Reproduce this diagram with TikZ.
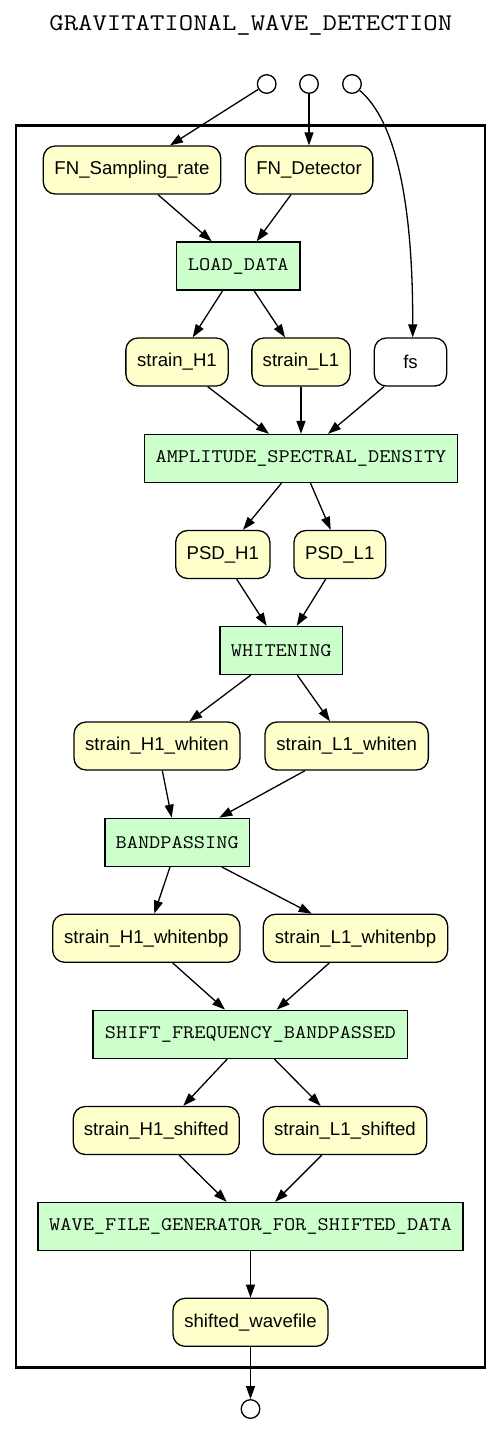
\documentclass[tikz,border=0pt]{standalone}
\usepackage{fontspec}
\setmainfont{Liberation Sans}
\usetikzlibrary{arrows.meta}
\definecolor{datafill}{HTML}{FFFFCC}
\definecolor{progfill}{HTML}{CCFFCC}
\newcommand{\progtext}[1]{\scalebox{1.131}[1]{#1}}
\begin{document}
\begin{tikzpicture}[x=1pt,y=-1pt,
  data/.style={draw=black, line width=1.3pt, fill=datafill, rounded corners=12pt,
    minimum height=48pt, inner xsep=6pt, inner ysep=0pt,
    font=\fontsize{18.6}{20}\selectfont},
  param/.style={data, fill=white},
  prog/.style={draw=black, line width=1.3pt, fill=progfill,
    minimum height=48pt, inner xsep=6pt, inner ysep=0pt,
    font=\ttfamily\fontsize{19.2}{21}\selectfont},
  port/.style={circle, draw=black, line width=1.3pt, minimum size=18.6pt, inner sep=0pt},
  edge/.style={line width=1.3pt, -{Triangle[length=13pt,width=9pt]}}]
\path[use as bounding box] (0,0) rectangle (501,1456);

\node[font=\ttfamily\fontsize{24}{26}\selectfont, anchor=base] (title) at (250.8,30.5) {\scalebox{1.164}[1]{GRAVITATIONAL\_WAVE\_DETECTION}};

\node[draw=black, line width=2.7pt, minimum width=469pt, minimum height=1242.4pt, inner sep=0pt] (cluster) at (250.5,746.5) {};

\node[port] (c1) at (266.7,84) {};
\node[port] (c2) at (309,84) {};
\node[port] (c3) at (352,84) {};

\node[data, minimum width=177.4pt] (fnsr) at (132,170) {FN\_Sampling\_rate};
\node[data, minimum width=127.7pt] (fndet) at (309,170) {FN\_Detector};
\node[prog, minimum width=123.3pt] (load) at (238.3,266) {\progtext{LOAD\_DATA}};
\node[data, minimum width=102.3pt] (sh1) at (177,362) {strain\_H1};
\node[data, minimum width=98.3pt] (sl1) at (301,362) {strain\_L1};
\node[param, minimum width=72.4pt] (fs) at (410.5,362) {fs};
\node[prog, minimum width=312.7pt] (asd) at (301,458.5) {\progtext{AMPLITUDE\_SPECTRAL\_DENSITY}};
\node[data, minimum width=94.3pt] (psdh) at (222.8,554.5) {PSD\_H1};
\node[data, minimum width=91.7pt] (psdl) at (339.8,554.5) {PSD\_L1};
\node[prog, minimum width=122.7pt] (wh) at (281.3,650.5) {\progtext{WHITENING}};
\node[data, minimum width=166pt] (swh) at (157,746) {strain\_H1\_whiten};
\node[data, minimum width=163.3pt] (swl) at (346.7,746) {strain\_L1\_whiten};
\node[prog, minimum width=144.3pt] (bp) at (177.2,842.3) {\progtext{BANDPASSING}};
\node[data, minimum width=187.3pt] (bph) at (146.3,938.3) {strain\_H1\_whitenbp};
\node[data, minimum width=184.4pt] (bpl) at (355.5,938.3) {strain\_L1\_whitenbp};
\node[prog, minimum width=314.7pt] (sfb) at (250.3,1034.3) {\progtext{SHIFT\_FREQUENCY\_BANDPASSED}};
\node[data, minimum width=166pt] (shh) at (156.3,1130.5) {strain\_H1\_shifted};
\node[data, minimum width=163.4pt] (shl) at (345,1130.5) {strain\_L1\_shifted};
\node[prog, minimum width=425pt] (wave) at (250.5,1226.5) {\progtext{WAVE\_FILE\_GENERATOR\_FOR\_SHIFTED\_DATA}};
\node[data, minimum width=155pt] (swf) at (250.5,1322.3) {shifted\_wavefile};
\node[port] (out) at (250.5,1409) {};

\draw[edge] (c1) -- ([xshift=38pt]fnsr.north);
\draw[edge] (c2) -- (fndet.north);
\draw[edge] (c3.-40) .. controls (395,120) and (413,200) .. ([xshift=2.2pt]fs.north);
\draw[edge] ([xshift=26pt]fnsr.south) -- ([xshift=-26.6pt]load.north);
\draw[edge] ([xshift=-18pt]fndet.south) -- ([xshift=18.4pt]load.north);
\draw[edge] ([xshift=-15.6pt]load.south) -- ([xshift=15.7pt]sh1.north);
\draw[edge] ([xshift=15.7pt]load.south) -- ([xshift=-16pt]sl1.north);
\draw[edge] ([xshift=30.7pt]sh1.south) -- ([xshift=-32pt]asd.north);
\draw[edge] (sl1.south) -- (asd.north);
\draw[edge] ([xshift=-26.5pt]fs.south) -- ([xshift=27pt]asd.north);
\draw[edge] ([xshift=-19.5pt]asd.south) -- ([xshift=20.2pt]psdh.north);
\draw[edge] ([xshift=9.5pt]asd.south) -- ([xshift=-9.1pt]psdl.north);
\draw[edge] ([xshift=13.9pt]psdh.south) -- ([xshift=-14.6pt]wh.north);
\draw[edge] ([xshift=-14.1pt]psdl.south) -- ([xshift=15.4pt]wh.north);
\draw[edge] ([xshift=-30.6pt]wh.south) -- ([xshift=32.3pt]swh.north);
\draw[edge] ([xshift=16pt]wh.south) -- ([xshift=-16.7pt]swl.north);
\draw[edge] ([xshift=5.3pt]swh.south) -- ([xshift=-5.5pt]bp.north);
\draw[edge] ([xshift=-41.7pt]swl.south) -- ([xshift=42.1pt]bp.north);
\draw[edge] ([xshift=-7.2pt]bp.south) -- ([xshift=8pt]bph.north);
\draw[edge] ([xshift=44.5pt]bp.south) -- ([xshift=-43.8pt]bpl.north);
\draw[edge] ([xshift=26.4pt]bph.south) -- ([xshift=-25.3pt]sfb.north);
\draw[edge] ([xshift=-26.2pt]bpl.south) -- ([xshift=26.4pt]sfb.north);
\draw[edge] ([xshift=-23pt]sfb.south) -- ([xshift=27pt]shh.north);
\draw[edge] ([xshift=24pt]sfb.south) -- ([xshift=-24.3pt]shl.north);
\draw[edge] ([xshift=23pt]shh.south) -- ([xshift=-23.8pt]wave.north);
\draw[edge] ([xshift=-23.3pt]shl.south) -- ([xshift=24.5pt]wave.north);
\draw[edge] (wave.south) -- (swf.north);
\draw[edge] (swf.south) -- (out);
\end{tikzpicture}
\end{document}
